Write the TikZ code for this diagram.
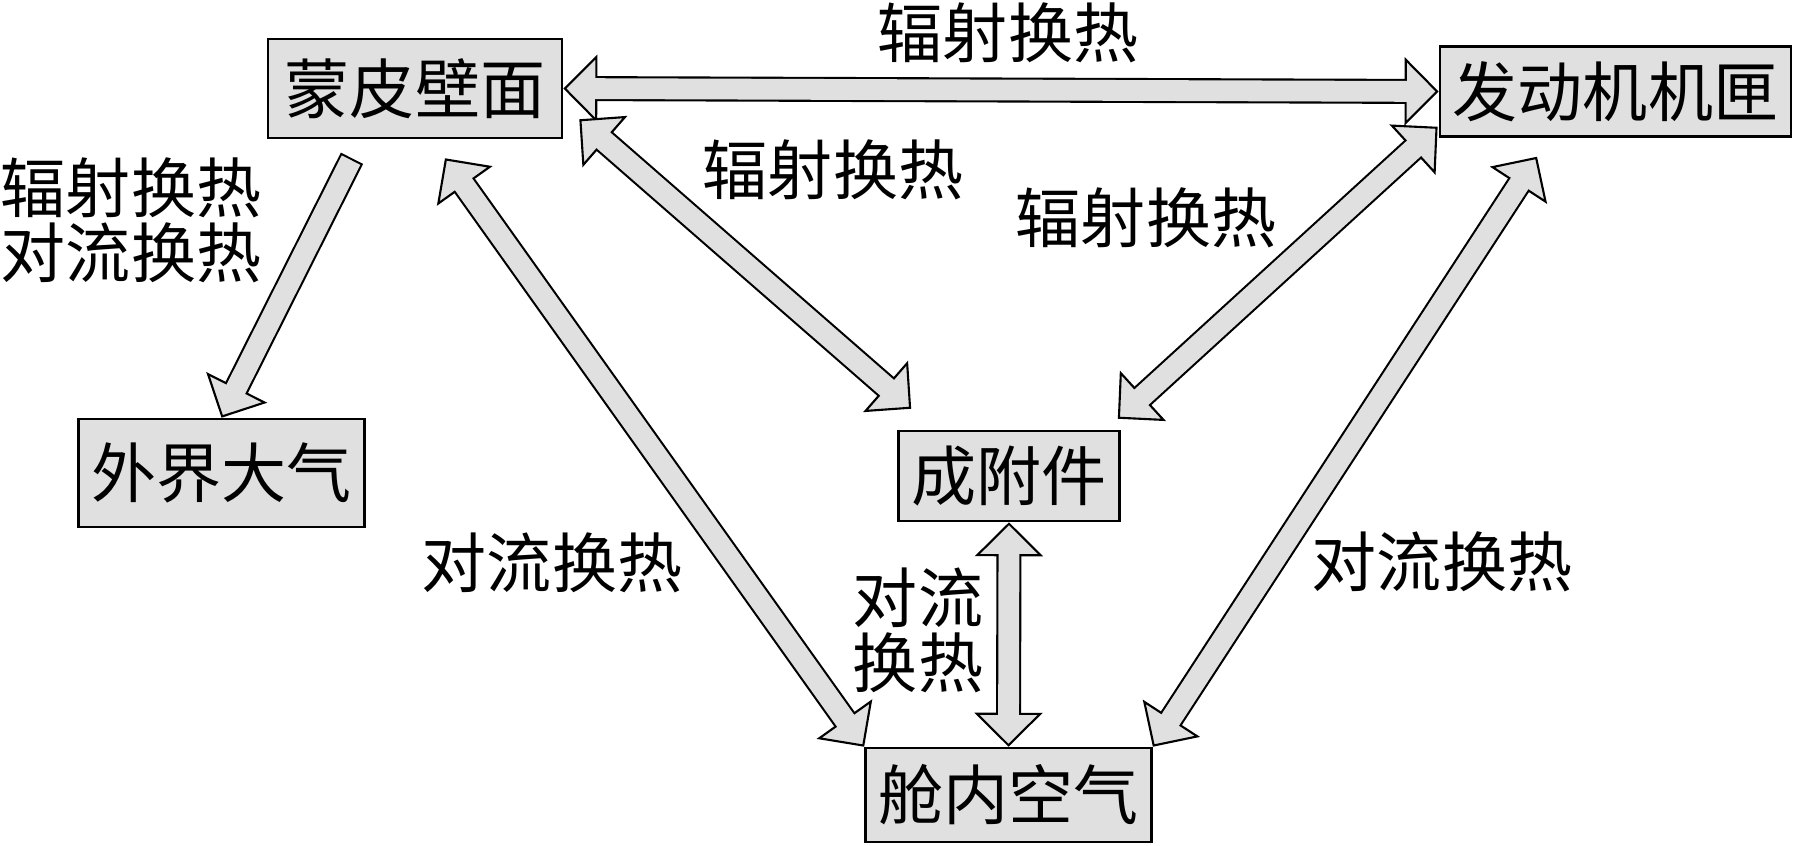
\documentclass[tikz,border=0pt]{standalone}
\usepackage{fontspec}
\newfontfamily\zhfont{Noto Sans CJK SC}
\usetikzlibrary{arrows.meta, calc}
\definecolor{boxgray}{gray}{0.88}
\def\Mengpi{蒙皮壁面}
\def\Fadong{发动机机匣}
\def\Waijie{外界大气}
\def\Chengfu{成附件}
\def\Cangnei{舱内空气}
\def\Fushe{辐射换热}
\def\Duiliu{对流换热}
\tikzset{
    Blk/.tip={Triangle[length=0.34cm, width=0.68cm, line width=0.6pt, fill=boxgray]},
    box/.style={draw, line width=0.7pt, fill=boxgray, inner xsep=0.13cm, inner ysep=0pt, minimum height=0.9cm},
    lbl/.style={inner sep=0pt, align=center},
    hfout/.style={line width=0.25cm, black},
    hfin/.style={line width=0.25cm-1.2pt, boxgray},
}
\newcommand\heatflow[2]{%
    \draw[hfout, Blk-Blk] (#1) -- (#2);
    \draw[hfin, shorten <=0.34cm-1.5pt, shorten >=0.34cm-1.5pt] (#1) -- (#2);
}

\begin{document}
\begin{tikzpicture}[x=0.01cm, y=-0.01cm, font=\zhfont\fontsize{18.5pt}{18.5pt}\selectfont]
    \useasboundingbox (0,0) rectangle (1793,845);

    \node[box, minimum width=2.94cm, minimum height=0.99cm] (mengpi) at (415,88.5) {\Mengpi};
    \node[box] (fadong) at (1615.5,91.5) {\Fadong};
    \node[box, minimum height=1.08cm] (waijie) at (221.5,473) {\Waijie};
    \node[box] (chengfu) at (1009,476) {\Chengfu};
    \node[box, minimum height=0.94cm] (cangnei) at (1008.5,795) {\Cangnei};

    \coordinate (m1) at ($(mengpi.south)+(-63,19)$);
    \coordinate (m2) at ($(mengpi.south)+(30,19)$);
    \coordinate (m3) at ($(mengpi.south east)+(16,-20)$);
    \coordinate (c1) at ($(chengfu.north west)+(14,-21)$);
    \coordinate (c2) at ($(chengfu.north east)+(-3,-11)$);
    \coordinate (f1) at ($(fadong.south west)+(-1,-11)$);
    \coordinate (f2) at ($(fadong.south)+(-78.5,19)$);

    \heatflow{mengpi.east}{fadong.west}
    \draw[hfout, -Blk] (m1) -- (waijie.north);
    \draw[hfin, shorten <=0.6pt, shorten >=0.34cm-1.5pt] (m1) -- (waijie.north);
    \heatflow{m2}{cangnei.north west}
    \heatflow{m3}{c1}
    \heatflow{f1}{c2}
    \heatflow{f2}{cangnei.north east}
    \heatflow{chengfu.south}{cangnei.north}

    \node[lbl] (t1) at (1008,33) {\Fushe};
    \node[lbl] (t2) at (833,170) {\Fushe};
    \node[lbl] (t3) at (1146,218) {\Fushe};
    \node[lbl] (t4) at (131,220) {\Fushe\\\Duiliu};
    \node[lbl] (t5) at (552,563) {\Duiliu};
    \node[lbl] (t6) at (918,630) {对流\\换热};
    \node[lbl] (t7) at (1442,562) {\Duiliu};
\end{tikzpicture}
\end{document}
